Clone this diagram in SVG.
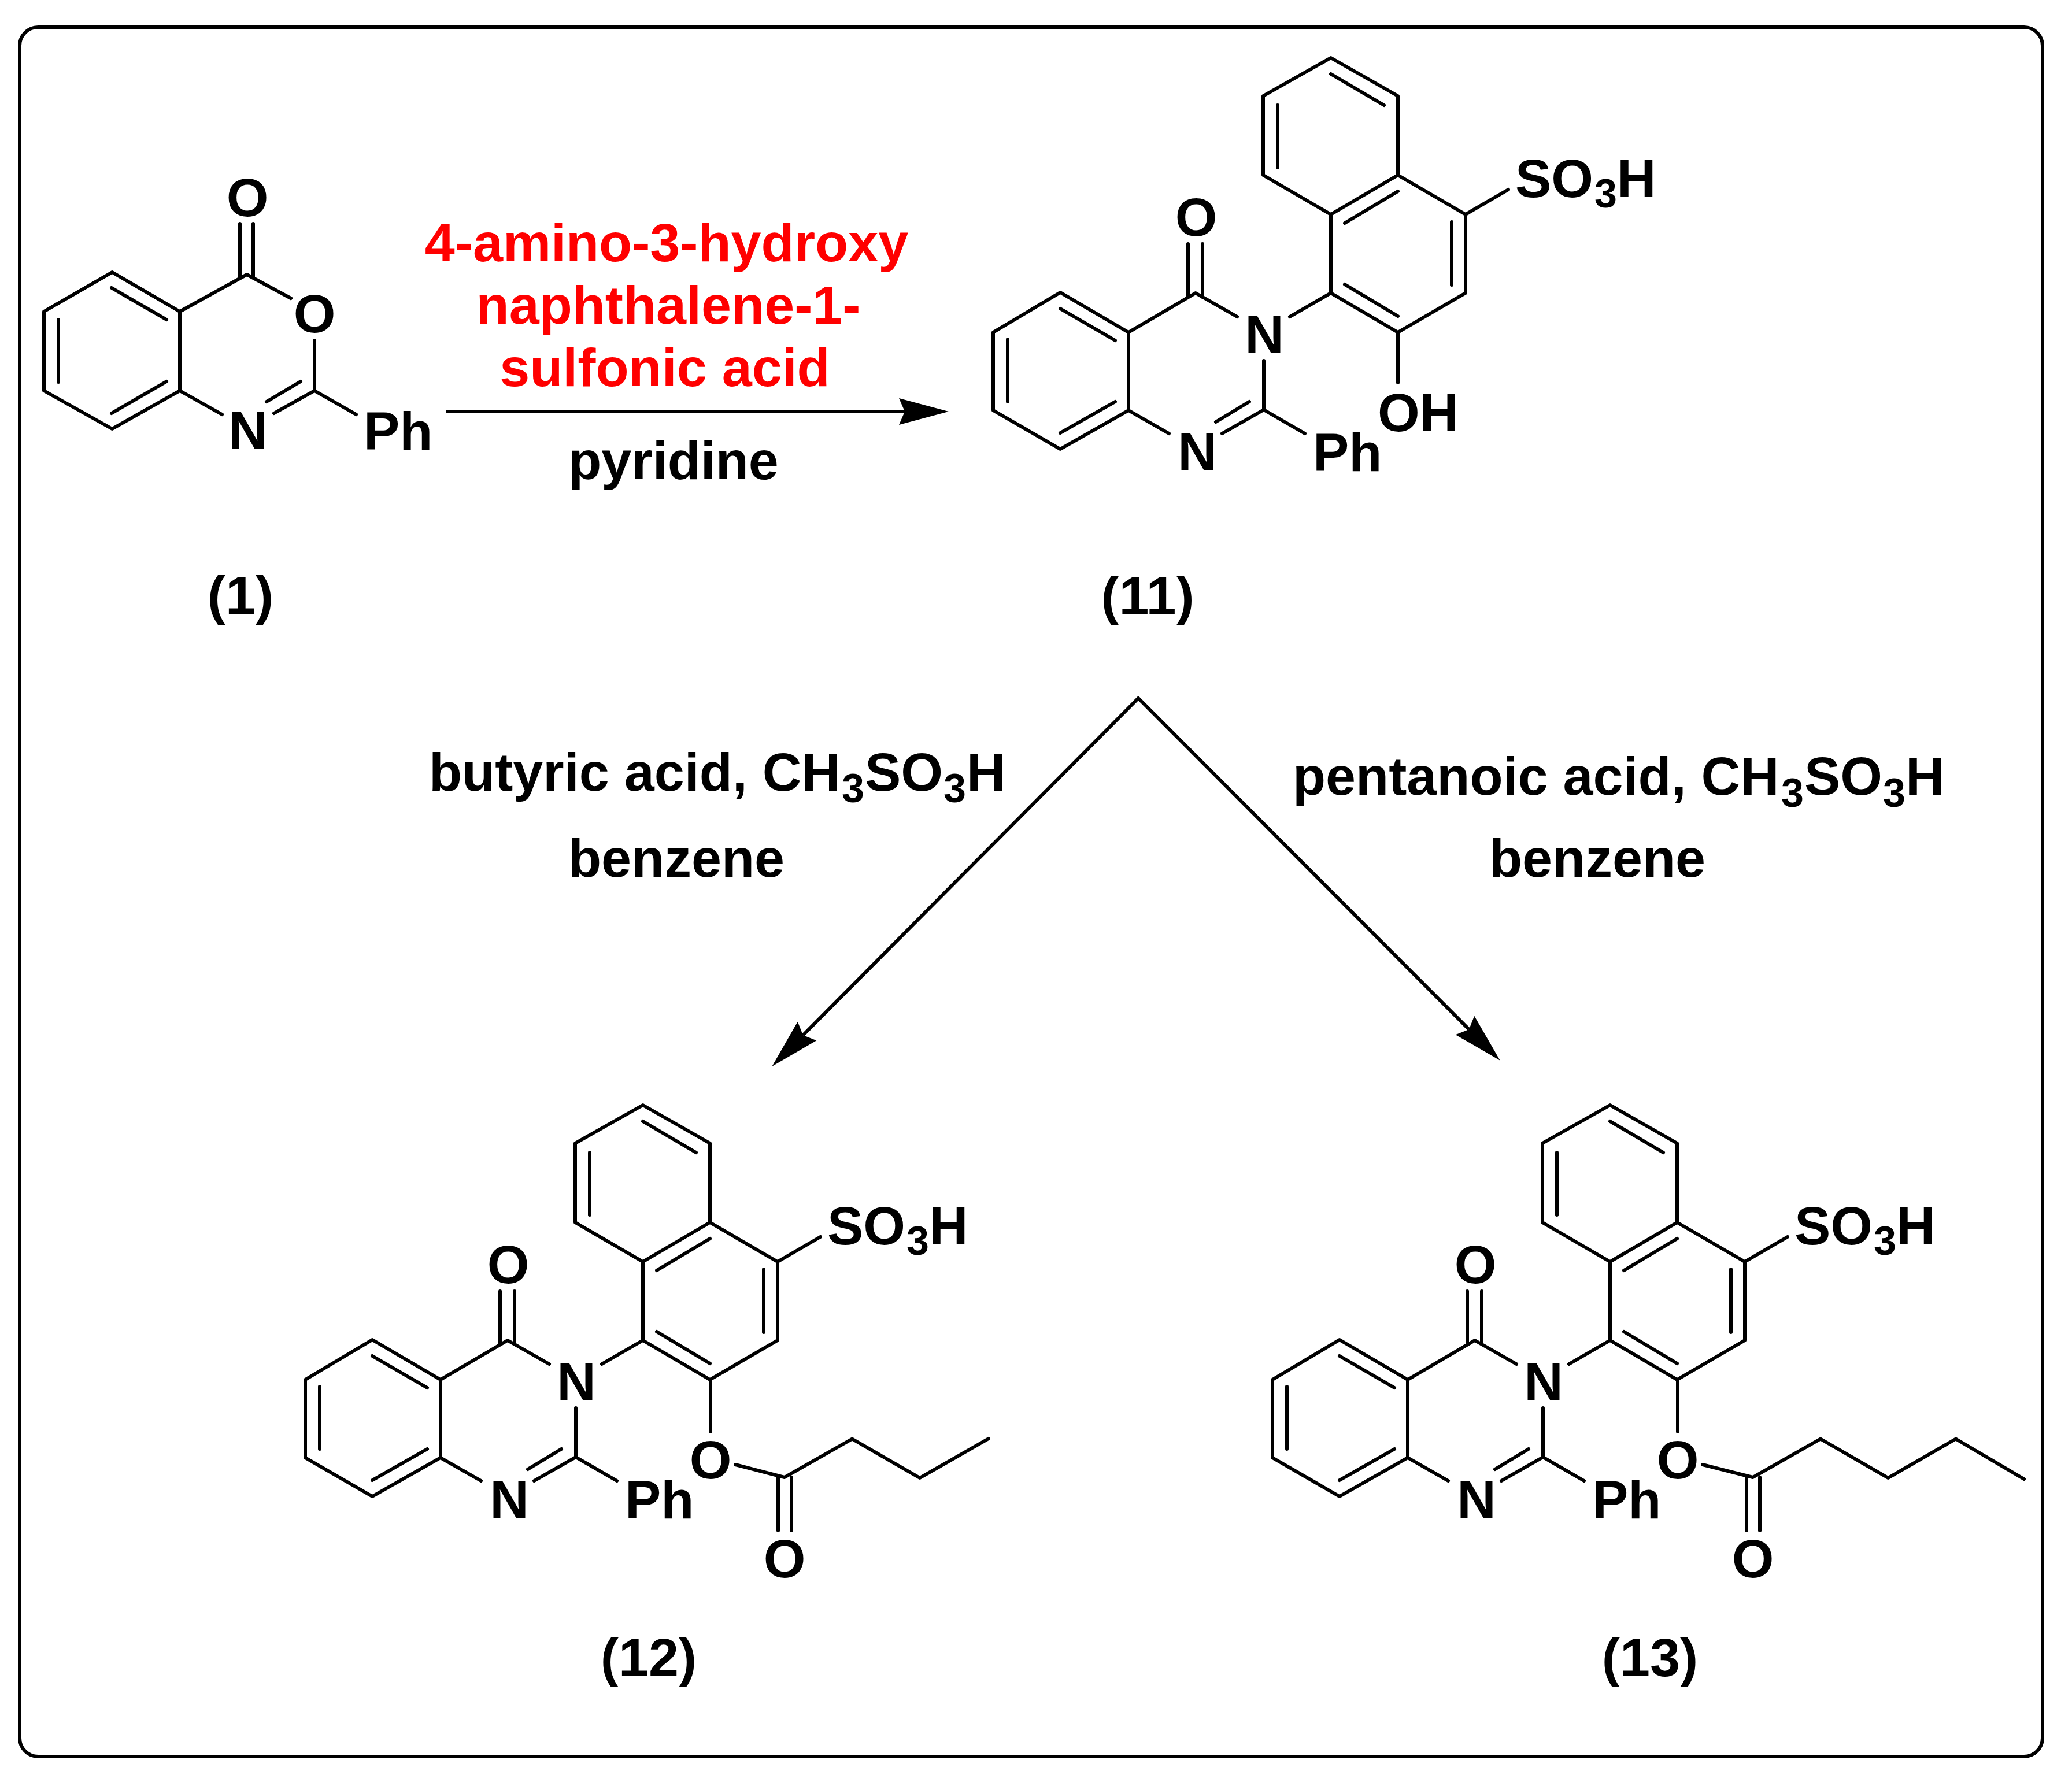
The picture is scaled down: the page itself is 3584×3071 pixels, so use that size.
<svg xmlns="http://www.w3.org/2000/svg" xmlns:xlink="http://www.w3.org/1999/xlink" width="3584" height="3071" viewBox="0 0 3584 3071">
<style>
text{font-family:"Liberation Sans",Arial,sans-serif;font-weight:700;font-size:93.5px;fill:#000}
.c{text-anchor:middle}
.red{fill:#f00}
.sub{font-size:70px}
.b{fill:none;stroke:#000;stroke-width:6;stroke-linecap:round;stroke-linejoin:round}
.arrow{fill:none;stroke:#000;stroke-width:6;stroke-linejoin:miter}
</style>
<defs>
<marker id="head" markerUnits="userSpaceOnUse" markerWidth="90" markerHeight="50" refX="10" refY="25" orient="auto-start-reverse"><path d="M0 2L86 25L0 48L10 25Z" fill="#000"/></marker>
<path id="core" class="b" d="M1952 575L1834 506L1718 575V710L1834 777L1952 710ZM1834 534L1929 589M1743 587V695M1834 749L1929 695M1952 575L2068 507L2140 548M2055 422V514M2080 422V514M2186 624V709M2231 548L2302 507M1952 710L2022 750M2186 709L2114 750M2103 730L2161 695M2186 709L2257 750M2302 100L2418 166V303L2302 371L2185 303V166ZM2302 128L2394 182M2210 182V290M2418 303L2535 371V507L2418 575L2302 507V371M2326 386L2418 331M2511 384V493M2326 492L2418 547M2535 371L2609 328"/>
</defs>
<rect id="frame" x="34" y="47" width="3499" height="2992" rx="32" fill="#fff" stroke="#000" stroke-width="6"/>
<g id="connectors">
<path class="arrow" marker-end="url(#head)" d="M772 712H1565"/>
<path class="arrow" marker-start="url(#head)" marker-end="url(#head)" d="M1389 1791L1969 1208L2541 1781"/>
</g>
<g id="compound-1">
<path class="b" d="M311 539L194 471L76 539V676L194 742L311 676ZM193 498L288 553M101 553V661M193 715L288 660M311 539L427 475L503 516M415 387V481M438 387V481M544 589V676M311 676L384 717M544 676L474 715M520 660L461 695M544 676L616 717"/>
<text class="c" x="428" y="374">O</text>
<text class="c" x="544" y="575">O</text>
<text class="c" x="429" y="777">N</text>
<text x="629" y="778">Ph</text>
<text class="c" x="416" y="1062">(1)</text>
</g>
<g id="reagents-top">
<text class="c red" x="1153" y="452">4-amino-3-hydroxy</text>
<text class="c red" x="1156" y="560">naphthalene-1-</text>
<text class="c red" x="1150" y="668">sulfonic acid</text>
<text class="c" x="1165" y="829">pyridine</text>
</g>
<g id="compound-11">
<use xlink:href="#core" href="#core"/>
<path class="b" d="M2418 575V662"/>
<text class="c" x="2069" y="408">O</text>
<text class="c" x="2187" y="611">N</text>
<text class="c" x="2071" y="814">N</text>
<text x="2271" y="815">Ph</text>
<text x="2383" y="746">OH</text>
<text y="341"><tspan x="2621">SO</tspan><tspan class="sub" x="2758" y="359">3</tspan><tspan x="2797" y="341">H</tspan></text>
<text class="c" x="1985" y="1063">(11)</text>
</g>
<g id="reagents-left">
<text y="1368"><tspan x="742">butyric acid, CH</tspan><tspan class="sub" x="1456" y="1388">3</tspan><tspan x="1496" y="1368">SO</tspan><tspan class="sub" x="1632" y="1388">3</tspan><tspan x="1672" y="1368">H</tspan></text>
<text class="c" x="1170" y="1517">benzene</text>
</g>
<g id="reagents-right">
<text y="1375"><tspan x="2236">pentanoic acid, CH</tspan><tspan class="sub" x="3081" y="1396">3</tspan><tspan x="3121" y="1375">SO</tspan><tspan class="sub" x="3257" y="1396">3</tspan><tspan x="3296" y="1375">H</tspan></text>
<text class="c" x="2763" y="1517">benzene</text>
</g>
<g id="compound-12">
<g transform="translate(-1190 1812)">
<use xlink:href="#core" href="#core"/>
<path class="b" d="M2419 576V665M2462 722L2547 744L2664 677.5L2781 745L2900 677M2536 744V836M2559 744V836"/>
<text class="c" x="2069" y="408">O</text>
<text class="c" x="2187" y="611">N</text>
<text class="c" x="2071" y="814">N</text>
<text x="2271" y="815">Ph</text>
<text class="c" x="2419" y="746">O</text>
<text class="c" x="2547" y="917">O</text>
<text y="341"><tspan x="2621">SO</tspan><tspan class="sub" x="2758" y="359">3</tspan><tspan x="2797" y="341">H</tspan></text>
</g>
<text class="c" x="1122" y="2900">(12)</text>
</g>
<g id="compound-13">
<g transform="translate(483 1812)">
<use xlink:href="#core" href="#core"/>
<path class="b" d="M2419 576V665M2462 722L2549 744L2666 677.5L2783 745L2900 677.5L3018 747M2538 744V836M2561 744V836"/>
<text class="c" x="2069" y="408">O</text>
<text class="c" x="2187" y="611">N</text>
<text class="c" x="2071" y="814">N</text>
<text x="2271" y="815">Ph</text>
<text class="c" x="2419" y="746">O</text>
<text class="c" x="2549" y="917">O</text>
<text y="341"><tspan x="2621">SO</tspan><tspan class="sub" x="2758" y="359">3</tspan><tspan x="2797" y="341">H</tspan></text>
</g>
<text class="c" x="2854" y="2900">(13)</text>
</g>
</svg>
